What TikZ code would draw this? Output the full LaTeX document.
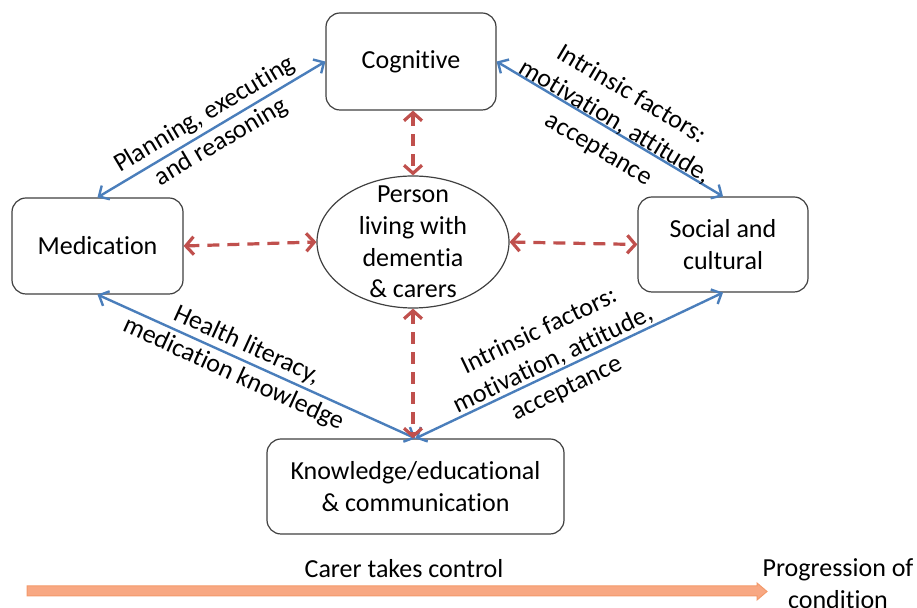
\documentclass[tikz,border=0pt]{standalone}
\usepackage{fontspec}
\setmainfont{Carlito}[Ligatures=NoCommon]
\usetikzlibrary{arrows.meta,shapes.geometric}
\definecolor{boxline}{HTML}{404040}
\definecolor{linkblue}{HTML}{4A7EBB}
\definecolor{linkred}{HTML}{C0504D}
\definecolor{progfill}{HTML}{F8A883}
\definecolor{progline}{HTML}{F39A6B}
\begin{document}
\begin{tikzpicture}[x=0.5pt,y=-0.5pt,
  font=\fontsize{13}{15.9}\selectfont,
  panel/.style={draw=boxline, line width=0.6pt, rounded corners=7pt, fill=white, align=center, inner sep=0pt},
  hub/.style={draw=boxline, line width=0.6pt, ellipse, inner sep=0pt, minimum width=96pt, minimum height=66pt},
  bluelink/.style={draw=linkblue, line width=1.2pt, {Straight Barb[length=4pt,width=8pt]}-{Straight Barb[length=4pt,width=8pt]}},
  redlink/.style={draw=linkred, line width=1.6pt, dash pattern=on 6pt off 4pt, {Straight Barb[length=4pt,width=9pt]}-{Straight Barb[length=4pt,width=9pt]}},
  lbl/.style={align=center, inner sep=0pt}]
\useasboundingbox (0,0) rectangle (917,608);

% main boxes
\node[panel, minimum width=85pt, minimum height=48.5pt] (cog) at (411,61.5) {Cognitive};
\node[panel, minimum width=85.5pt, minimum height=48pt] (med) at (97.5,246) {Medication};
\node[panel, minimum width=85pt, minimum height=47.5pt] (soc) at (723,244.5) {Social and\\cultural};
\node[panel, minimum width=148.5pt, minimum height=47.5pt] (know) at (415.5,486.5) {Knowledge/educational\\\& communication};
\node[hub] (ell) at (413,242) {};
\node[lbl] (elltxt) at (ell.center) {Person\\living with\\dementia\\\& carers};

% blue connectors
\draw[bluelink] (med.north) -- (cog.west);
\draw[bluelink] (cog.east) -- (soc.north);
\draw[bluelink] (med.south) -- (know.north);
\draw[bluelink] (know.north) -- (soc.south);

% red dashed connectors
\draw[redlink] (ell.north |- cog.south) -- (ell.north);
\draw[redlink] (med.east) -- (ell.west);
\draw[redlink] (ell.east) -- (soc.west);
\draw[redlink] (ell.south) -- (ell.south |- know.north);

% connector labels
\node[lbl, rotate=30.7] (l1) at (213,128.5) {Planning, executing\\and reasoning};
\node[lbl, rotate=-30.8] (l2) at (615,122) {Intrinsic factors:\\motivation, attitude,\\acceptance};
\node[lbl, rotate=-24.5] (l3) at (240,360) {Health literacy,\\medication knowledge};
\node[lbl, rotate=25.6] (l4) at (553,360) {Intrinsic factors:\\motivation, attitude,\\acceptance};

% progression arrow
\filldraw[fill=progfill, draw=progline, line width=0.5pt]
  (27,586) -- (757,586) -- (757,583) -- (767,591.5) -- (757,600) -- (757,596) -- (27,596) -- cycle;
\node[lbl, anchor=base] (carer) at (404,578) {Carer takes control};
\node[lbl] (prog) at (838,584) {Progression of\\condition};
\end{tikzpicture}
\end{document}
